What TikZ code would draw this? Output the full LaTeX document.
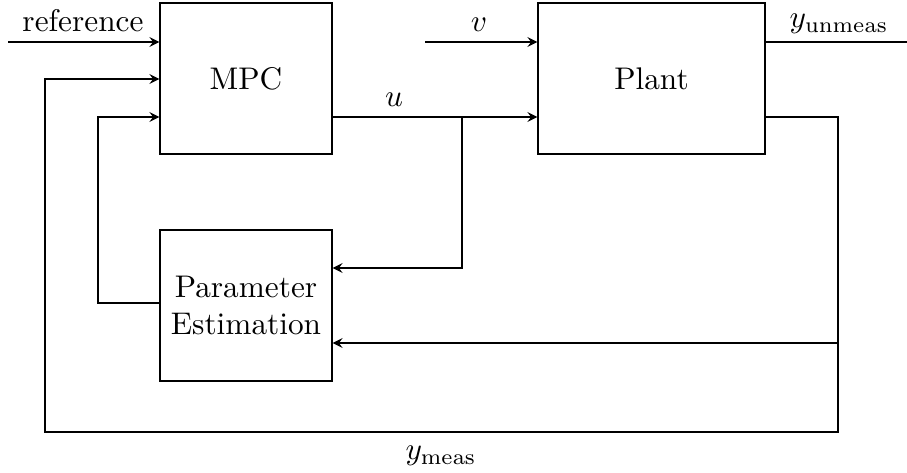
\documentclass[tikz,border=0pt]{standalone}
\usetikzlibrary{calc}
\begin{document}
\begin{tikzpicture}[x=0.3195pt,y=-0.3195pt, >=stealth,
  blk/.style={draw, rectangle, inner sep=0pt},
  lbl/.style={inner sep=0pt, anchor=base}]
\useasboundingbox (0,0) rectangle (907,473);

% blocks
\node[blk, minimum width=172*0.3195pt, minimum height=151*0.3195pt] (mpc) at (246,78.5) {MPC};
\node[blk, minimum width=227*0.3195pt, minimum height=151*0.3195pt] (plant) at (651.5,78.5) {Plant};
\node[blk, align=center, minimum width=172*0.3195pt, minimum height=151*0.3195pt] (pe) at (246,305.5) {Parameter\\Estimation};

% free ends and corners
\coordinate (ref) at (8,42);
\coordinate (vin) at (425,42);
\coordinate (yu) at (907,42);
\coordinate (br) at (462,117);
\coordinate (pu) at (462,268);
\coordinate (po) at (838,117);
\coordinate (ym) at (838,343);
\coordinate (bot) at (838,432);
\coordinate (lc) at (45,432);
\coordinate (lt) at (45,79);
\coordinate (pl) at (98,303);
\coordinate (plt) at (98,117);

% signals
\draw[->] (ref) -- (ref -| mpc.west);
\draw[->] (vin) -- (vin -| plant.west);
\draw (yu -| plant.east) -- (yu);
\draw[->] (br -| mpc.east) -- (br -| plant.west);
\draw[->] (br) -- (pu) -- (pu -| pe.east);
\draw[->] (po -| plant.east) -- (po) -- (bot) -- (lc) -- (lt) -- (lt -| mpc.west);
\draw[->] (ym) -- (ym -| pe.east);
\draw[->] (pl -| pe.west) -- (pl) -- (plt) -- (plt -| mpc.west);

% labels
\node[lbl] (lref) at (83,31.5) {reference};
\node[lbl] (lv) at (479,31.5) {$v$};
\node[lbl] (lyu) at (839,28) {$y_{\mathrm{unmeas}}$};
\node[lbl] (lu) at (394,107) {$u$};
\node[lbl] (lym) at (441,460) {$y_{\mathrm{meas}}$};
\end{tikzpicture}
\end{document}
